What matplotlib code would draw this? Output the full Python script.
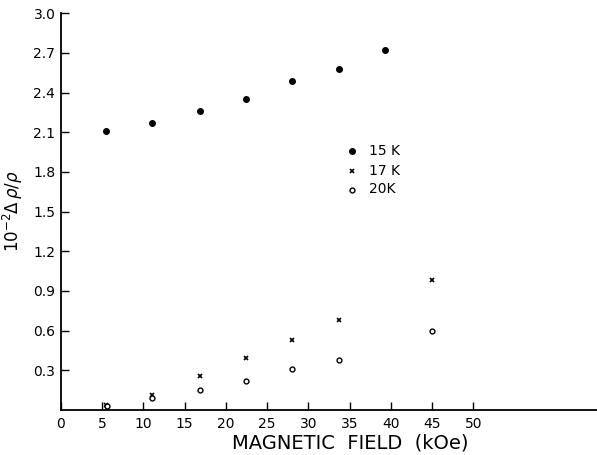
import numpy as np
import matplotlib.pyplot as plt

# field values (kOe)
field_15k = [5.5, 11.1, 16.9, 22.4, 28.0, 33.7, 39.3]
rho_15k = [2.11, 2.17, 2.26, 2.35, 2.49, 2.58, 2.72]

field_17k = [5.5, 11.1, 16.9, 22.4, 28.0, 33.7, 45.0]
rho_17k = [0.04, 0.11, 0.26, 0.39, 0.53, 0.68, 0.98]

field_20k = [5.6, 11.1, 16.9, 22.4, 28.0, 33.7, 45.0]
rho_20k = [0.03, 0.09, 0.15, 0.22, 0.31, 0.38, 0.60]

xticks = [0, 5, 10, 15, 20, 25, 30, 35, 40, 45, 50]
yticks = [0.3, 0.6, 0.9, 1.2, 1.5, 1.8, 2.1, 2.4, 2.7, 3.0]

fig = plt.figure(figsize=(5.97, 4.55), dpi=100)
ax = fig.add_axes([0.102, 0.099, 0.898, 0.872])

ax.plot(field_15k, rho_15k, "o", color="black", markersize=4)
ax.plot(field_17k, rho_17k, "x", color="black", markersize=3.5, markeredgewidth=1.2)
ax.plot(field_20k, rho_20k, "o", color="black", markerfacecolor="white",
        markersize=3.5, markeredgewidth=1)

ax.set_xlim(0, 65)
ax.set_ylim(0, 3.0)
ax.set_xticks(xticks)
ax.set_yticks(yticks)
ax.set_yticklabels([f"{v:.1f}" for v in yticks])
ax.tick_params(direction="in", length=6, width=1, labelsize=10, pad=4)
ax.tick_params(axis="x", pad=5)

for s in ["top", "right"]:
    ax.spines[s].set_visible(False)
for s in ["left", "bottom"]:
    ax.spines[s].set_linewidth(1.3)

# hand-drawn style legend
leg_x = 35.3
ax.plot([leg_x], [1.96], "o", color="black", markersize=4)
ax.plot([leg_x], [1.81], "x", color="black", markersize=3.5, markeredgewidth=1.2)
ax.plot([leg_x], [1.66], "o", color="black", markerfacecolor="white",
        markersize=3.5, markeredgewidth=1)
ax.text(leg_x + 2.0, 1.96, "15 K", fontsize=10, va="center")
ax.text(leg_x + 2.0, 1.81, "17 K", fontsize=10, va="center")
ax.text(leg_x + 2.0, 1.67, "20K", fontsize=10, va="center")

ax.set_xlabel("MAGNETIC  FIELD  (kOe)", fontsize=14, labelpad=2, x=0.54)
ax.set_ylabel(r"$10^{-2}\Delta\,\rho/\rho$", fontsize=12, labelpad=6)

fig.savefig("out.png", dpi=100)
